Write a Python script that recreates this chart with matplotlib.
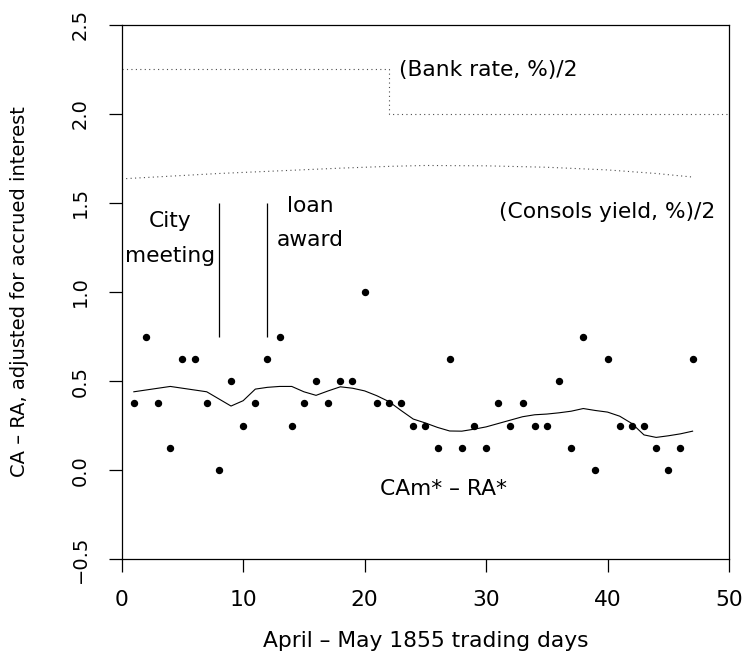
import matplotlib
matplotlib.use("Agg")
from matplotlib import pyplot as plt

plt.rcParams['font.family'] = ['DejaVu Sans']

# trading days and CAm* - RA* observations
days = list(range(1, 48))
spread = [0.375, 0.75, 0.375, 0.125, 0.625, 0.625, 0.375, 0.0, 0.5, 0.25,
          0.375, 0.625, 0.75, 0.25, 0.375, 0.5, 0.375, 0.5, 0.5, 1.0,
          0.375, 0.375, 0.375, 0.25, 0.25, 0.125, 0.625, 0.125, 0.25, 0.125,
          0.375, 0.25, 0.375, 0.25, 0.25, 0.5, 0.125, 0.75, 0.0, 0.625,
          0.25, 0.25, 0.25, 0.125, 0.0, 0.125, 0.625]

# smoothed spread
smooth = [0.44, 0.45, 0.46, 0.47, 0.46, 0.45, 0.44, 0.40, 0.36, 0.39,
          0.455, 0.465, 0.47, 0.47, 0.44, 0.42, 0.445, 0.468, 0.46, 0.445,
          0.418, 0.385, 0.335, 0.287, 0.265, 0.24, 0.22, 0.219, 0.23, 0.243,
          0.262, 0.281, 0.30, 0.311, 0.315, 0.322, 0.331, 0.346, 0.335, 0.326,
          0.303, 0.262, 0.198, 0.184, 0.193, 0.204, 0.219]

# bank rate / 2
bank_x = [0, 22, 22, 50]
bank_y = [2.25, 2.25, 2.0, 2.0]

# consols yield / 2
consols_x = [0, 4, 8, 13, 18, 22, 25, 30, 35, 40, 44, 47]
consols_y = [1.635, 1.65, 1.665, 1.68, 1.695, 1.705, 1.71, 1.708, 1.70, 1.685, 1.665, 1.645]

# event markers
events_x = [8, 12]
event_top = 1.5
event_bottom = 0.75

fig = plt.figure(figsize=(7.43, 6.64), dpi=100)
ax = fig.add_axes([0.1638, 0.1577, 0.8174, 0.8051])

ax.plot(days, spread, 'o', color='black', ms=4.3, mec='black')
ax.plot(days, smooth, '-', color='black', lw=0.8)
ax.plot(bank_x, bank_y, color='0.3', lw=0.8, dashes=(1, 3))
ax.plot(consols_x, consols_y, color='0.3', lw=0.8, dashes=(1, 3))
ax.vlines(events_x, event_bottom, event_top, color='black', lw=0.9)

fs = 15.7   # horizontal text
fsv = 14.0  # rotated text
ax.text(4, 1.367, 'City', ha='center', va='baseline', fontsize=fs)
ax.text(4, 1.17, 'meeting', ha='center', va='baseline', fontsize=fs)
ax.text(15.5, 1.451, 'loan', ha='center', va='baseline', fontsize=fs)
ax.text(15.5, 1.26, 'award', ha='center', va='baseline', fontsize=fs)
ax.text(22.8, 2.21, '(Bank rate, %)/2', ha='left', va='baseline', fontsize=fs)
ax.text(40.0, 1.415, '(Consols yield, %)/2', ha='center', va='baseline', fontsize=fs)
ax.text(26.5, -0.14, 'CAm* – RA*', ha='center', va='baseline', fontsize=fs)

ax.set_xlim(0, 50)
ax.set_ylim(-0.5, 2.5)
ax.set_xticks([0, 10, 20, 30, 40, 50])
ax.set_yticks([-0.5, 0.0, 0.5, 1.0, 1.5, 2.0, 2.5])
ax.set_yticklabels(['−0.5', '0.0', '0.5', '1.0', '1.5', '2.0', '2.5'],
                   rotation=90, va='center')
ax.tick_params(length=9.5, width=0.9, pad=13.7)
ax.tick_params(axis='x', labelsize=fs, pad=12.5)
ax.tick_params(axis='y', labelsize=fsv)
for s in ax.spines.values():
    s.set_linewidth(0.9)

ax.set_xlabel('April – May 1855 trading days', fontsize=fs, labelpad=15)
ax.set_ylabel('CA – RA, adjusted for accrued interest', fontsize=fsv, labelpad=30)

fig.savefig('out.png', dpi=100)
